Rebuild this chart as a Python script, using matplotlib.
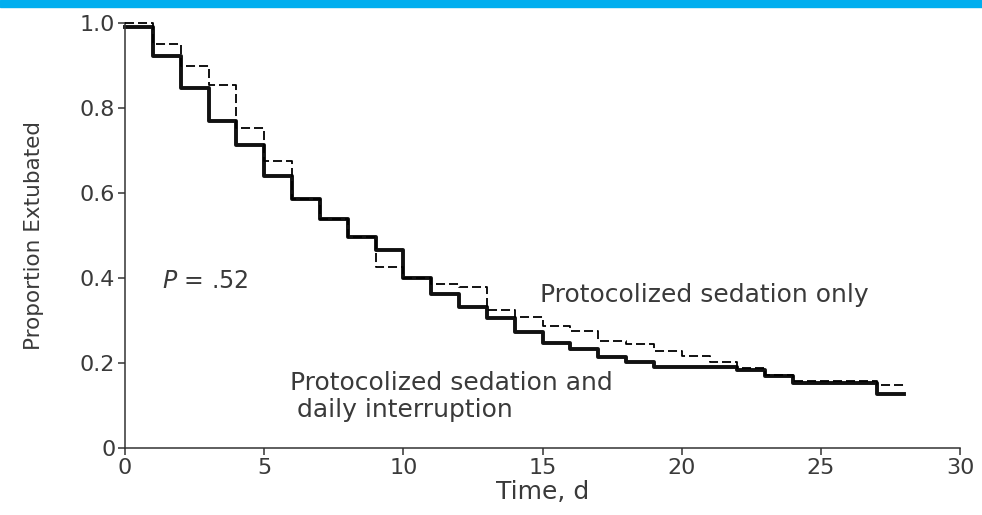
import matplotlib
matplotlib.use("Agg")
import matplotlib.pyplot as plt
import numpy as np
from matplotlib.patches import Rectangle

# Kaplan-Meier style curves, one value per day interval [d, d+1)
days = np.arange(29)
interruption = [0.99, 0.923, 0.848, 0.769, 0.712, 0.641, 0.585, 0.538, 0.496, 0.466,
                0.400, 0.363, 0.332, 0.305, 0.273, 0.247, 0.233, 0.213, 0.202, 0.190,
                0.190, 0.190, 0.183, 0.170, 0.152, 0.152, 0.152, 0.128]
sedation_only = [1.0, 0.951, 0.899, 0.854, 0.753, 0.676, 0.585, 0.540, 0.496, 0.426,
                 0.400, 0.387, 0.380, 0.324, 0.308, 0.288, 0.276, 0.252, 0.245, 0.229,
                 0.216, 0.202, 0.188, 0.172, 0.158, 0.158, 0.158, 0.149]
x_ticks = [0, 5, 10, 15, 20, 25, 30]
y_ticks = [0, 0.2, 0.4, 0.6, 0.8, 1.0]
y_tick_labels = ["0", "0.2", "0.4", "0.6", "0.8", "1.0"]

plt.rcParams["font.family"] = "DejaVu Sans"
plt.rcParams["mathtext.fontset"] = "custom"
plt.rcParams["mathtext.it"] = "DejaVu Sans:italic"
plt.rcParams["mathtext.rm"] = "DejaVu Sans"
text_color = "#3a3a3a"

fig = plt.figure(figsize=(9.82, 5.15), dpi=100)
ax = fig.add_axes([0.1273, 0.1301, 0.8503, 0.8252])

# blue rule across the top edge
fig.patches.append(Rectangle((0, 1 - 7 / 515), 1, 7 / 515, transform=fig.transFigure,
                             color="#00AEEF", zorder=0))

ax.step(days, sedation_only + [sedation_only[-1]], where="post", color="black",
        lw=1.3, dashes=(5, 2.2), clip_on=False, zorder=3)
ax.step(days, interruption + [interruption[-1]], where="post", color="#111111",
        lw=2.8, clip_on=False, zorder=2)

ax.set_xlim(0, 30)
ax.set_ylim(0, 1.0)
ax.set_xticks(x_ticks)
ax.set_yticks(y_ticks)
ax.set_yticklabels(y_tick_labels)
for side in ["top", "right"]:
    ax.spines[side].set_visible(False)
for side in ["left", "bottom"]:
    ax.spines[side].set_color("#333333")
    ax.spines[side].set_linewidth(1.1)
ax.tick_params(direction="out", length=5, width=1.1, color="#333333",
               labelsize=16, labelcolor=text_color, pad=2)

ax.set_xlabel("Time, d", fontsize=18, color=text_color, labelpad=2)
ax.set_ylabel("Proportion Extubated", fontsize=15.5, color=text_color, labelpad=26)

ax.text(1.33, 0.394, r"$P$ = .52", fontsize=17, color=text_color, va="center")
ax.text(14.91, 0.36, "Protocolized sedation only", fontsize=18, color=text_color,
        va="center")
ax.text(5.93, 0.153, "Protocolized sedation and", fontsize=18, color=text_color,
        va="center")
ax.text(6.18, 0.089, "daily interruption", fontsize=18, color=text_color, va="center")

fig.savefig("out.png", dpi=100)
